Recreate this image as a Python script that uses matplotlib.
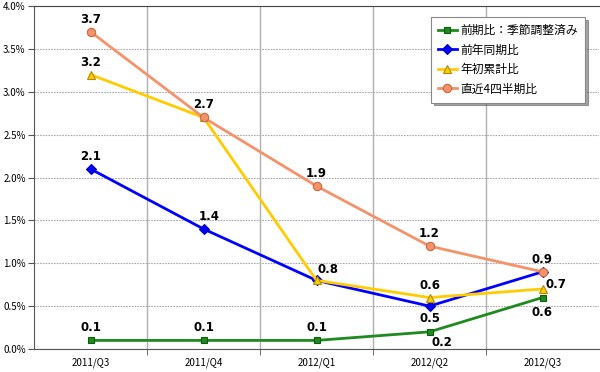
import matplotlib.pyplot as plt
from matplotlib.ticker import FuncFormatter

plt.rcParams['font.family'] = ['Noto Sans CJK JP', 'DejaVu Sans']

quarters = ["2011/Q3", "2011/Q4", "2012/Q1", "2012/Q2", "2012/Q3"]
qoq_sa = [0.1, 0.1, 0.1, 0.2, 0.6]
yoy = [2.1, 1.4, 0.8, 0.5, 0.9]
ytd = [3.2, 2.7, 0.8, 0.6, 0.7]
last4q = [3.7, 2.7, 1.9, 1.2, 0.9]
series_names = ["前期比：季節調整済み", "前年同期比", "年初累計比", "直近4四半期比"]

fig = plt.figure(figsize=(6, 3.72), dpi=100)
ax = fig.add_axes([34 / 600, 23 / 372, 565 / 600, 343 / 372])

x = list(range(len(quarters)))
styles = [
    (qoq_sa, "#1f8a1f", "#0b5e0b", "s", 5),
    (yoy, "#0000ff", "#0000b0", "D", 5),
    (ytd, "#ffcc00", "#b08a00", "^", 6),
    (last4q, "#f4926a", "#c86a40", "o", 6),
]
for (vals, col, edge, mk, ms), name in zip(styles, series_names):
    ax.plot(x, vals, color=col, lw=2, marker=mk, ms=ms,
            markerfacecolor=col, markeredgecolor=edge, markeredgewidth=0.8,
            label=name)

# data labels: (series, index, dx, dy) in points
labels = [
    (qoq_sa, 0, 0, 9), (qoq_sa, 1, 0, 9), (qoq_sa, 2, 0, 9),
    (qoq_sa, 3, 9, -8), (qoq_sa, 4, 0, -11),
    (yoy, 0, 0, 9), (yoy, 1, 4, 9), (yoy, 3, 0, -9),
    (ytd, 0, 0, 9), (ytd, 2, 8, 8), (ytd, 3, 0, 9), (ytd, 4, 10, 3),
    (last4q, 0, 0, 9), (last4q, 1, 0, 9), (last4q, 2, 0, 9),
    (last4q, 3, 0, 9), (last4q, 4, 0, 9),
]
for vals, i, dx, dy in labels:
    ax.annotate(f"{vals[i]:.1f}", (x[i], vals[i]), xytext=(dx, dy),
                textcoords="offset points", ha="center", va="center",
                fontsize=8.5, fontweight="bold", family="DejaVu Sans")

ax.set_xlim(-0.5, 4.5)
ax.set_ylim(0, 4.0)
ax.set_yticks([i * 0.5 for i in range(9)])
ax.yaxis.set_major_formatter(FuncFormatter(lambda v, p: f"{v:.1f}%"))
ax.set_xticks(x)
ax.set_xticklabels(quarters)
ax.set_xticks([0.5, 1.5, 2.5, 3.5], minor=True)
ax.tick_params(axis="x", which="major", length=0, labelsize=7, pad=6)
ax.tick_params(axis="x", which="minor", length=4, color="#555555")
ax.tick_params(axis="y", labelsize=7, length=4, color="#555555", pad=2)

ax.grid(axis="y", color="#aaaaaa", linestyle=(0, (1.5, 1)), lw=0.8)
ax.grid(axis="x", which="minor", color="#b0b0b0", linestyle="-", lw=1)
ax.set_axisbelow(True)
ax.spines["right"].set_visible(False)
ax.spines["top"].set_color("#444444")
ax.spines["top"].set_linestyle((0, (1.5, 1)))
ax.spines["left"].set_color("#555555")
ax.spines["bottom"].set_color("#555555")

leg = ax.legend(loc="upper right", bbox_to_anchor=(0.975, 0.968), fontsize=8.5,
                frameon=True, fancybox=False, shadow=True, borderpad=0.6,
                labelspacing=0.55, handlelength=1.6, handletextpad=0.3,
                borderaxespad=0)
leg.get_frame().set_edgecolor("#888888")
leg.get_frame().set_linewidth(0.8)

fig.savefig("out.png", dpi=100)
